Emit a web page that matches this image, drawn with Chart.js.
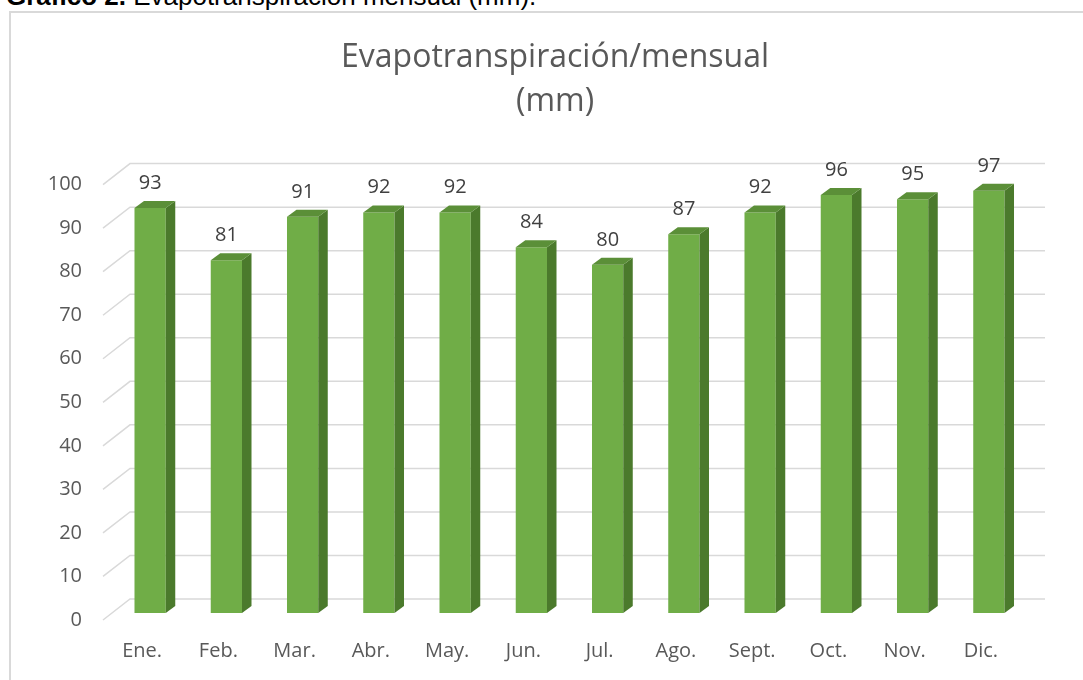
<!DOCTYPE html>
<html>
<head>
<meta charset="utf-8">
<script src="https://cdn.jsdelivr.net/npm/chart.js@4"></script>
<style>
  html, body { margin: 0; padding: 0; background: #fff; }
  body { width: 1083px; height: 680px; position: relative; overflow: hidden; }
  #caption {
    position: absolute; left: 6px; top: -17px;
    font-family: "Liberation Sans", Arial, sans-serif; font-size: 26px; line-height: 26px;
    color: #000; white-space: nowrap;
  }
  #marco {
    position: absolute; left: 9px; top: 11px; width: 1100px; height: 700px;
    border: 2px solid #d9d9d9;
  }
  #grafico { position: absolute; left: 0; top: 0; }
</style>
</head>
<body>
<div id="caption"><b>Gráfico 2.</b> Evapotranspiración mensual (mm).</div>
<div id="marco"></div>
<canvas id="grafico" width="1083" height="680"></canvas>
<script>
/* ================= DATOS ================= */

const meses = ["Ene.", "Feb.", "Mar.", "Abr.", "May.", "Jun.", "Jul.", "Ago.", "Sept.", "Oct.", "Nov.", "Dic."];
const evapotranspiracion = [93, 81, 91, 92, 92, 84, 80, 87, 92, 96, 95, 97];
const ejeYMin = 0;
const ejeYMax = 100;
const ejeYPaso = 10;
const titulo = ["Evapotranspiración/mensual", "(mm)"];

/* ================= ESTILO 3D ================= */

const colorFrente = "#70ad47";
const colorLado = "#4b7a2c";
const colorTecho = "#5b8f38";
const colorRejilla = "#d9d9d9";

// profundidad de la barra y del "piso"
const barraDx = 9.5, barraDy = 7;
const fondoDx = 18, fondoDy = 14;   // plano del fondo respecto a las barras
const frenteDx = -9, frenteDy = 7;  // plano delantero respecto a las barras

const rejilla3D = {
  id: "rejilla3D",
  beforeDatasetsDraw(chart) {
    const { ctx, chartArea, scales } = chart;
    const y = scales.y;
    ctx.save();
    ctx.strokeStyle = colorRejilla;
    ctx.lineWidth = 1.5;
    y.ticks.forEach(t => {
      const py = y.getPixelForValue(t.value);
      ctx.beginPath();
      ctx.moveTo(chartArea.left + frenteDx, py + frenteDy);
      ctx.lineTo(chartArea.left + fondoDx, py - fondoDy);
      ctx.lineTo(chartArea.right + fondoDx, py - fondoDy);
      ctx.stroke();
    });
    ctx.restore();
  }
};

const barras3D = {
  id: "barras3D",
  afterDatasetsDraw(chart) {
    const { ctx } = chart;
    const meta = chart.getDatasetMeta(0);
    ctx.save();
    meta.data.forEach((bar, i) => {
      const { x, y, base, width } = bar.getProps(["x", "y", "base", "width"], true);
      const izq = x - width / 2, der = x + width / 2;

      // lado derecho
      ctx.fillStyle = colorLado;
      ctx.beginPath();
      ctx.moveTo(der, y);
      ctx.lineTo(der + barraDx, y - barraDy);
      ctx.lineTo(der + barraDx, base - barraDy);
      ctx.lineTo(der, base);
      ctx.closePath();
      ctx.fill();

      // techo
      ctx.fillStyle = colorTecho;
      ctx.beginPath();
      ctx.moveTo(izq, y);
      ctx.lineTo(izq + barraDx, y - barraDy);
      ctx.lineTo(der + barraDx, y - barraDy);
      ctx.lineTo(der, y);
      ctx.closePath();
      ctx.fill();

      // etiqueta de valor
      ctx.fillStyle = "#404040";
      ctx.font = "20px 'Open Sans'";
      ctx.textAlign = "center";
      ctx.textBaseline = "alphabetic";
      ctx.fillText(evapotranspiracion[i], x, y - 19);
    });
    ctx.restore();
  }
};

/* ================= GRÁFICO ================= */

new Chart(document.getElementById("grafico"), {
  type: "bar",
  data: {
    labels: meses,
    datasets: [{
      label: "Evapotranspiración",
      data: evapotranspiracion,
      backgroundColor: colorFrente,
      borderWidth: 0,
      barPercentage: 0.41,
      categoryPercentage: 1
    }]
  },
  options: {
    responsive: false,
    animation: false,
    layout: { padding: { left: 27, right: 0, top: 0, bottom: 0 } },
    plugins: {
      legend: { display: false },
      tooltip: { enabled: false },
      title: {
        display: true,
        text: titulo,
        color: "#595959",
        font: { family: "Open Sans", size: 32, weight: "normal", lineHeight: 1.4 },
        padding: { top: 35, bottom: 53 }
      }
    },
    scales: {
      x: {
        grid: { display: false, drawTicks: false },
        border: { display: false },
        ticks: {
          color: "#595959",
          font: { family: "Open Sans", size: 20 },
          padding: 26,
          labelOffset: -8,
          maxRotation: 0
        },
        afterFit(scale) { scale.height = 67; }
      },
      y: {
        min: ejeYMin,
        max: ejeYMax,
        grid: { display: false, drawTicks: false },
        border: { display: false },
        ticks: {
          stepSize: ejeYPaso,
          color: "#595959",
          font: { family: "Open Sans", size: 20 },
          padding: 30,
          labelOffset: 7
        },
        afterFit(scale) { scale.width = 85; }
      },
      // eje vacío a la derecha, solo reserva el margen
      margen: {
        type: "linear",
        position: "right",
        grid: { display: false, drawTicks: false },
        border: { display: false },
        ticks: { display: false },
        afterFit(scale) { scale.width = 56; }
      }
    }
  },
  plugins: [rejilla3D, barras3D]
});
</script>
</body>
</html>
